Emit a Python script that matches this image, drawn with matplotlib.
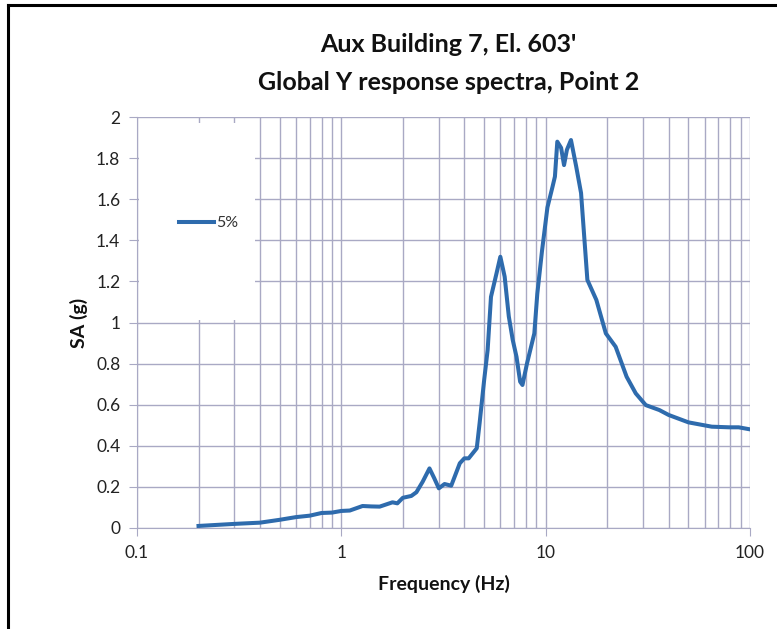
import matplotlib
matplotlib.use("Agg")
import matplotlib.pyplot as plt
from matplotlib.lines import Line2D
from matplotlib.patches import Rectangle
from matplotlib.ticker import FixedLocator, NullFormatter

# response spectrum, 5% damping
freq = [0.2, 0.3, 0.4, 0.5, 0.6, 0.7, 0.8, 0.9, 1.0, 1.1, 1.27, 1.4, 1.54, 1.78, 1.88,
        2.0, 2.2, 2.33, 2.5, 2.7, 2.85, 3.0, 3.2, 3.45, 3.8, 4.0, 4.2, 4.6, 4.75,
        5.0, 5.2, 5.4, 5.75, 6.0, 6.3, 6.6, 6.9, 7.2, 7.5, 7.7, 8.1, 8.8, 9.1, 9.6,
        10.2, 10.8, 11.1, 11.4, 11.9, 12.3, 12.7, 13.3, 14.1, 14.9, 16.0, 17.7,
        19.7, 22.0, 24.9, 27.6, 30.9, 36.0, 40.0, 50.0, 65.0, 79.0, 88.0, 100.0]
sa = [0.01, 0.02, 0.026, 0.04, 0.053, 0.06, 0.073, 0.075, 0.083, 0.085, 0.107, 0.105, 0.104, 0.125, 0.12,
      0.147, 0.156, 0.174, 0.225, 0.29, 0.242, 0.193, 0.214, 0.206, 0.315, 0.339, 0.339, 0.388, 0.51,
      0.72, 0.866, 1.125, 1.24, 1.32, 1.223, 1.03, 0.915, 0.833, 0.712, 0.696, 0.80, 0.947, 1.14, 1.35,
      1.56, 1.66, 1.71, 1.88, 1.85, 1.766, 1.84, 1.888, 1.76, 1.63, 1.207, 1.11,
      0.947, 0.882, 0.736, 0.655, 0.598, 0.574, 0.55, 0.514, 0.493, 0.49, 0.49, 0.48]

yticks = [0, 0.2, 0.4, 0.6, 0.8, 1, 1.2, 1.4, 1.6, 1.8, 2]
ylabels = ["0", "0.2", "0.4", "0.6", "0.8", "1", "1.2", "1.4", "1.6", "1.8", "2"]
xticks = [0.1, 1, 10, 100]
xlabels = ["0.1", "1", "10", "100"]

plt.rcParams['font.family'] = ['Lato', 'DejaVu Sans']

fig = plt.figure(figsize=(7.77, 6.29), dpi=100)
ax = fig.add_axes([137/777, 1-528/629, 613/777, 411/629])

gridc = '#a9a9c4'
ax.plot(freq, sa, color='#2e6bad', lw=2.9, label='5%', zorder=3, solid_joinstyle='round')
ax.set_xscale('log')
ax.set_xlim(0.1, 100)
ax.set_ylim(0, 2)

ax.xaxis.set_major_locator(FixedLocator(xticks))
ax.set_xticklabels(xlabels)
minors = [m * 10.0**e for e in (-1, 0, 1) for m in range(2, 10)]
ax.xaxis.set_minor_locator(FixedLocator(minors))
ax.xaxis.set_minor_formatter(NullFormatter())
ax.set_yticks(yticks)
ax.set_yticklabels(ylabels)

ax.grid(True, which='both', color=gridc, lw=1.0)
ax.set_axisbelow(True)
for s in ['top', 'right']:
    ax.spines[s].set_visible(False)
for s in ['left', 'bottom']:
    ax.spines[s].set_color(gridc)
ax.tick_params(axis='both', which='major', direction='out', length=6, color=gridc,
               labelsize=12.5, labelcolor='#222222', pad=6)
ax.tick_params(axis='x', which='minor', length=0)

# white box behind the legend, hides the grid there
ax.add_patch(Rectangle((0.003, 0.506), 0.19, 0.479, transform=ax.transAxes,
                       facecolor='white', edgecolor='none', zorder=1))
ax.legend(loc='center left', bbox_to_anchor=(0.045, 0.742), frameon=False,
          handlelength=2.2, handletextpad=0.1, fontsize=11.5, labelcolor='#333333')

ax.set_xlabel('Frequency (Hz)', fontsize=14, fontweight='bold', labelpad=10, color='#111111')
ax.set_ylabel('SA (g)', fontsize=14, fontweight='bold', labelpad=6, color='#111111')

fig.text(0.577, 1-45/629, "Aux Building 7, El. 603'", ha='center', va='center',
         fontsize=18, fontweight='bold', color='#111111')
fig.text(0.577, 1-83/629, "Global Y response spectra, Point 2", ha='center', va='center',
         fontsize=18, fontweight='bold', color='#111111')

# outer chart frame (only left and top are inside the picture)
fig.add_artist(Line2D([8/777, 8/777], [0, 1-5/629], color='black', lw=2.2))
fig.add_artist(Line2D([8/777, 1], [1-5/629, 1-5/629], color='black', lw=2.2))

fig.savefig('out.png', dpi=100)
